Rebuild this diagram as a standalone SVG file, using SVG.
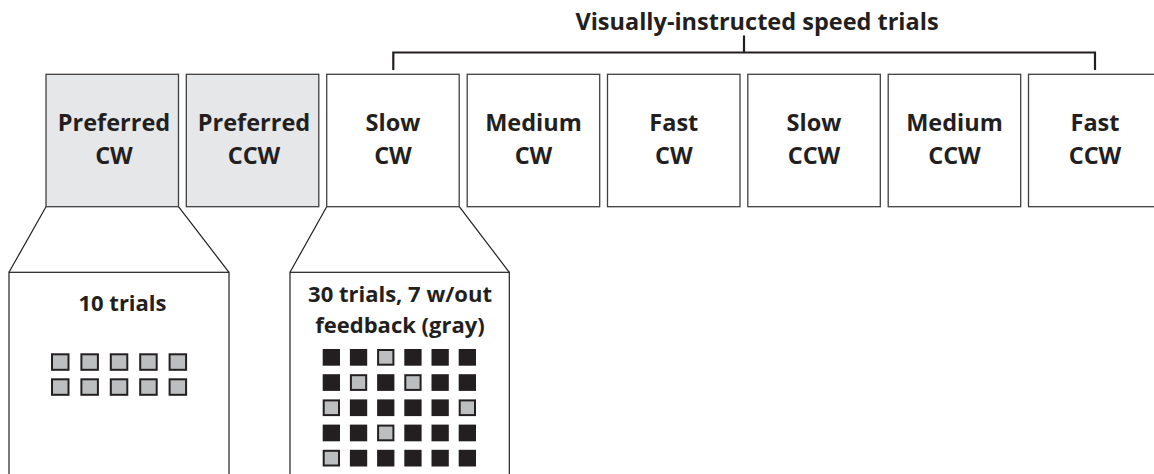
<svg xmlns="http://www.w3.org/2000/svg" width="1154" height="474" viewBox="0 0 1154 474">
  <style>
    .box { fill: #ffffff; stroke: #404040; stroke-width: 1.3; }
    .box.pref { fill: #e6e7e8; }
    .lbl { font-family: "Open Sans", "Liberation Sans", sans-serif; font-weight: bold; font-size: 23.5px; fill: #231f20; text-anchor: middle; }
    .title { font-family: "Open Sans", "Liberation Sans", sans-serif; font-weight: bold; font-size: 23.5px; fill: #231f20; text-anchor: middle; }
    .note { font-family: "Open Sans", "Liberation Sans", sans-serif; font-weight: bold; font-size: 22px; fill: #231f20; text-anchor: middle; }
    .line { fill: none; stroke: #231f20; stroke-width: 1.2; }
    .bracket { fill: none; stroke: #231f20; stroke-width: 2.2; }
    .panel { fill: #ffffff; stroke: #231f20; stroke-width: 1.2; }
    .fb { fill: #231f20; }
    .nofb { fill: #bcbec0; stroke: #231f20; stroke-width: 2; }
  </style>
  <defs>
    <rect id="blk" width="17.3" height="16.7" class="fb"/>
    <rect id="gry" x="1" y="1" width="15.3" height="14.7" class="nofb"/>
    <rect id="gryL" x="1" y="1" width="16.5" height="15.5" class="nofb"/>
  </defs>

  <rect width="1154" height="474" fill="#ffffff"/>

  <!-- speed-trial bracket and heading -->
  <g id="speed-bracket">
    <path class="bracket" d="M393.3,70 V52.5 H1095 V70 M744,52.5 V35.5"/>
    <text class="title" x="757" y="30">Visually-instructed speed trials</text>
  </g>

  <!-- zoom-out connectors from blocks to detail panels -->
  <g id="connectors">
    <path class="line" d="M46,206.7 L9,272.3 M178.5,206.7 L229,272.3"/>
    <path class="line" d="M326.7,206.7 L290,272.3 M459.3,206.7 L509.3,272.3"/>
  </g>

  <!-- condition blocks -->
  <g id="pref-cw">
    <rect class="box pref" x="46" y="74.3" width="132.5" height="132.4"/>
    <text class="lbl" x="114" y="130.7">Preferred</text>
    <text class="lbl" x="114" y="164">CW</text>
  </g>
  <g id="pref-ccw">
    <rect class="box pref" x="186.3" y="74.3" width="132.5" height="132.4"/>
    <text class="lbl" x="254" y="130.7">Preferred</text>
    <text class="lbl" x="254" y="164">CCW</text>
  </g>
  <g id="slow-cw">
    <rect class="box" x="326.7" y="74.3" width="132.5" height="132.4"/>
    <text class="lbl" x="393" y="130.7">Slow</text>
    <text class="lbl" x="393" y="164">CW</text>
  </g>
  <g id="medium-cw">
    <rect class="box" x="467.2" y="74.3" width="132.5" height="132.4"/>
    <text class="lbl" x="533.5" y="130.7">Medium</text>
    <text class="lbl" x="533.5" y="164">CW</text>
  </g>
  <g id="fast-cw">
    <rect class="box" x="607.5" y="74.3" width="132.5" height="132.4"/>
    <text class="lbl" x="673.8" y="130.7">Fast</text>
    <text class="lbl" x="673.8" y="164">CW</text>
  </g>
  <g id="slow-ccw">
    <rect class="box" x="747.8" y="74.3" width="132.5" height="132.4"/>
    <text class="lbl" x="814" y="130.7">Slow</text>
    <text class="lbl" x="814" y="164">CCW</text>
  </g>
  <g id="medium-ccw">
    <rect class="box" x="888.2" y="74.3" width="132.5" height="132.4"/>
    <text class="lbl" x="954.5" y="130.7">Medium</text>
    <text class="lbl" x="954.5" y="164">CCW</text>
  </g>
  <g id="fast-ccw">
    <rect class="box" x="1028.5" y="74.3" width="132.5" height="132.4"/>
    <text class="lbl" x="1095" y="130.7">Fast</text>
    <text class="lbl" x="1095" y="164">CCW</text>
  </g>

  <!-- detail: preferred-speed block -->
  <g id="detail-preferred">
    <rect class="panel" x="9" y="272.3" width="220" height="220"/>
    <text class="note" x="122.5" y="311">10 trials</text>
    <g>
      <use href="#gryL" x="51" y="353.3"/>
      <use href="#gryL" x="80.4" y="353.3"/>
      <use href="#gryL" x="109.8" y="353.3"/>
      <use href="#gryL" x="139.2" y="353.3"/>
      <use href="#gryL" x="168.6" y="353.3"/>
      <use href="#gryL" x="51" y="378.3"/>
      <use href="#gryL" x="80.4" y="378.3"/>
      <use href="#gryL" x="109.8" y="378.3"/>
      <use href="#gryL" x="139.2" y="378.3"/>
      <use href="#gryL" x="168.6" y="378.3"/>
    </g>
  </g>

  <!-- detail: visually-instructed block -->
  <g id="detail-instructed">
    <rect class="panel" x="290" y="272.3" width="219.3" height="220"/>
    <text class="note" x="400" y="301.7">30 trials, 7 w/out</text>
    <text class="note" x="400" y="333">feedback (gray)</text>
    <g>
      <!-- row 1 -->
      <use href="#blk" x="322.7" y="349"/>
      <use href="#blk" x="349.9" y="349"/>
      <use href="#gry" x="377.1" y="349"/>
      <use href="#blk" x="404.3" y="349"/>
      <use href="#blk" x="431.5" y="349"/>
      <use href="#blk" x="458.7" y="349"/>
      <!-- row 2 -->
      <use href="#blk" x="322.7" y="374.2"/>
      <use href="#gry" x="349.9" y="374.2"/>
      <use href="#blk" x="377.1" y="374.2"/>
      <use href="#gry" x="404.3" y="374.2"/>
      <use href="#blk" x="431.5" y="374.2"/>
      <use href="#blk" x="458.7" y="374.2"/>
      <!-- row 3 -->
      <use href="#gry" x="322.7" y="399.4"/>
      <use href="#blk" x="349.9" y="399.4"/>
      <use href="#blk" x="377.1" y="399.4"/>
      <use href="#blk" x="404.3" y="399.4"/>
      <use href="#blk" x="431.5" y="399.4"/>
      <use href="#gry" x="458.7" y="399.4"/>
      <!-- row 4 -->
      <use href="#blk" x="322.7" y="424.6"/>
      <use href="#blk" x="349.9" y="424.6"/>
      <use href="#gry" x="377.1" y="424.6"/>
      <use href="#blk" x="404.3" y="424.6"/>
      <use href="#blk" x="431.5" y="424.6"/>
      <use href="#blk" x="458.7" y="424.6"/>
      <!-- row 5 -->
      <use href="#gry" x="322.7" y="449.8"/>
      <use href="#blk" x="349.9" y="449.8"/>
      <use href="#blk" x="377.1" y="449.8"/>
      <use href="#blk" x="404.3" y="449.8"/>
      <use href="#blk" x="431.5" y="449.8"/>
      <use href="#blk" x="458.7" y="449.8"/>
    </g>
  </g>
</svg>
